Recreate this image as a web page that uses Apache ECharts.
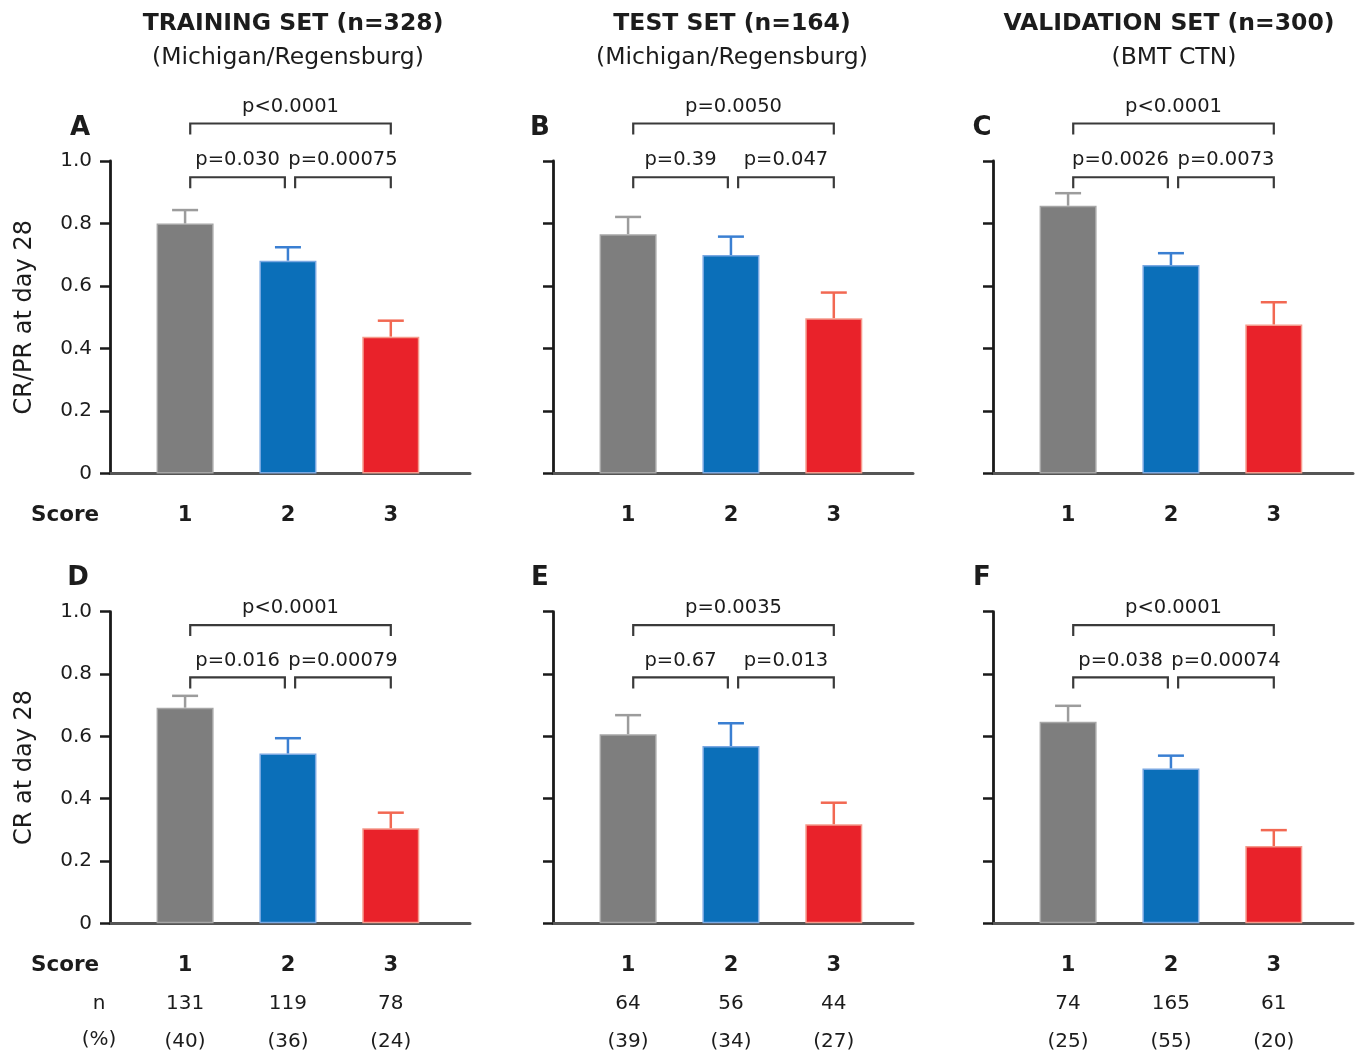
<!DOCTYPE html>
<html>
<head>
<meta charset="utf-8">
<script src="https://cdn.jsdelivr.net/npm/echarts@6/dist/echarts.min.js"></script>
<style>
  html, body { margin: 0; padding: 0; background: #fff; }
  #chart { width: 1363px; height: 1055px; }
</style>
</head>
<body>
<div id="chart"></div>
<script>
// Response rate at day 28 by score group, three cohorts
const scores = [1, 2, 3];
const panelLetters = ['A', 'B', 'C', 'D', 'E', 'F'];
const cohortTitles = ['TRAINING SET (n=328)', 'TEST SET (n=164)', 'VALIDATION SET (n=300)'];
const cohortSources = ['(Michigan/Regensburg)', '(Michigan/Regensburg)', '(BMT CTN)'];
const rowAxisNames = ['CR/PR at day 28', 'CR at day 28'];

// CR/PR at day 28 (row 1): proportion and upper error bound
const crprTraining = [0.800, 0.681, 0.438];
const crprTrainingUpper = [0.843, 0.724, 0.489];
const crprTest = [0.766, 0.699, 0.497];
const crprTestUpper = [0.821, 0.758, 0.579];
const crprValidation = [0.857, 0.667, 0.477];
const crprValidationUpper = [0.897, 0.705, 0.548];

// CR at day 28 (row 2)
const crTraining = [0.692, 0.545, 0.305];
const crTrainingUpper = [0.730, 0.594, 0.355];
const crTest = [0.607, 0.569, 0.318];
const crTestUpper = [0.668, 0.642, 0.387];
const crValidation = [0.647, 0.497, 0.248];
const crValidationUpper = [0.698, 0.538, 0.299];

// pairwise p-values: [1 vs 3, 1 vs 2, 2 vs 3]
const pTrainingCrpr = ['p<0.0001', 'p=0.030', 'p=0.00075'];
const pTestCrpr = ['p=0.0050', 'p=0.39', 'p=0.047'];
const pValidationCrpr = ['p<0.0001', 'p=0.0026', 'p=0.0073'];
const pTrainingCr = ['p<0.0001', 'p=0.016', 'p=0.00079'];
const pTestCr = ['p=0.0035', 'p=0.67', 'p=0.013'];
const pValidationCr = ['p<0.0001', 'p=0.038', 'p=0.00074'];

// bracket heights (value units) for each row: [wide bracket, narrow brackets]
const bracketLevelsRow1 = [1.12, 0.948];
const bracketLevelsRow2 = [0.957, 0.789];
// bracket spans along the score axis: [1 vs 3, 1 vs 2, 2 vs 3]
const bracketSpans = [[1.05, 3.0], [1.05, 1.97], [2.07, 3.0]];

// patients per score group and share of cohort
const nTraining = [131, 119, 78];
const nTest = [64, 56, 44];
const nValidation = [74, 165, 61];
const pctTraining = [40, 36, 24];
const pctTest = [39, 34, 27];
const pctValidation = [25, 55, 20];

const yTicks = [0, 0.2, 0.4, 0.6, 0.8, 1.0];

const FONT = 'DejaVu Sans';
const INK = '#1c1c1c';
const barColors = ['#7e7e7e', '#0b6fb9', '#e9222a'];
const barBorders = ['#a6a6a6', '#7aa8e2', '#f59a8c'];
const errColors = ['#9c9c9c', '#3a7fd2', '#f26852'];

const panels = [
  { mean: crprTraining, upper: crprTrainingUpper, p: pTrainingCrpr, row: 0, col: 0 },
  { mean: crprTest, upper: crprTestUpper, p: pTestCrpr, row: 0, col: 1 },
  { mean: crprValidation, upper: crprValidationUpper, p: pValidationCrpr, row: 0, col: 2 },
  { mean: crTraining, upper: crTrainingUpper, p: pTrainingCr, row: 1, col: 0 },
  { mean: crTest, upper: crTestUpper, p: pTestCr, row: 1, col: 1 },
  { mean: crValidation, upper: crValidationUpper, p: pValidationCr, row: 1, col: 2 }
];
const countsByCol = [nTraining, nTest, nValidation];
const pctByCol = [pctTraining, pctTest, pctValidation];
const levelsByRow = [bracketLevelsRow1, bracketLevelsRow2];

const gridLefts = [110, 553, 993];
const gridTops = [161, 611.7];
const gridHeights = [312.5, 311.6];

const grid = [], xAxis = [], yAxis = [], series = [];

panels.forEach((pn, k) => {
  grid.push({ left: gridLefts[pn.col], top: gridTops[pn.row], width: 360, height: gridHeights[pn.row] });

  const counts = countsByCol[pn.col];
  const pcts = pctByCol[pn.col];
  xAxis.push({
    gridIndex: k, type: 'value', min: 0.27, max: 3.77,
    splitLine: { show: false },
    axisTick: { show: false },
    axisLine: { show: true, onZero: false, lineStyle: { color: '#555', width: 3 } },
    axisLabel: pn.row === 0 ? {
      customValues: scores, margin: 30,
      fontFamily: FONT, fontSize: 21, fontWeight: 'bold', color: INK, lineHeight: 24,
      formatter: v => String(v)
    } : {
      customValues: scores, margin: 23,
      formatter: v => {
        const i = scores.indexOf(v);
        return '{b|' + v + '}\n{n|' + counts[i] + '}\n{n|(' + pcts[i] + ')}';
      },
      rich: {
        b: { fontFamily: FONT, fontSize: 21, fontWeight: 'bold', color: INK, lineHeight: 38 },
        n: { fontFamily: FONT, fontSize: 20, color: INK, lineHeight: 38 }
      }
    }
  });

  yAxis.push({
    gridIndex: k, type: 'value', min: 0, max: 1, interval: 0.2,
    splitLine: { show: false },
    axisLine: { show: true, lineStyle: { color: '#1a1a1a', width: 2.8 } },
    axisTick: { show: true, length: 10, lineStyle: { color: '#1a1a1a', width: 2.5 } },
    axisLabel: {
      show: pn.col === 0, margin: 18,
      fontFamily: FONT, fontSize: 20, color: INK,
      formatter: v => (v === 0 ? '0' : v.toFixed(1))
    },
    name: pn.col === 0 ? rowAxisNames[pn.row] : '',
    nameLocation: 'middle', nameGap: 73,
    nameTextStyle: { fontFamily: FONT, fontSize: 24, color: INK }
  });

  series.push({
    type: 'bar', xAxisIndex: k, yAxisIndex: k, barWidth: 57,
    data: scores.map((s, i) => ({
      value: [s, pn.mean[i]],
      itemStyle: { color: barColors[i], borderColor: barBorders[i], borderWidth: 1.5 }
    })),
    z: 2, silent: true
  });

  // upper error bars
  series.push({
    type: 'custom', xAxisIndex: k, yAxisIndex: k, clip: false, z: 3, silent: true,
    encode: { x: 0, y: [1, 2] },
    data: scores.map((s, i) => [s, pn.mean[i], pn.upper[i]]),
    renderItem: (params, api) => {
      const i = params.dataIndex;
      const base = api.coord([api.value(0), api.value(1)]);
      const top = api.coord([api.value(0), api.value(2)]);
      const c = errColors[i];
      return {
        type: 'group', children: [
          { type: 'line', shape: { x1: base[0], y1: base[1], x2: top[0], y2: top[1] }, style: { stroke: c, lineWidth: 2.5 } },
          { type: 'line', shape: { x1: top[0] - 13, y1: top[1], x2: top[0] + 13, y2: top[1] }, style: { stroke: c, lineWidth: 2.5 } }
        ]
      };
    }
  });

  // significance brackets with p-values
  const lv = levelsByRow[pn.row];
  series.push({
    type: 'custom', xAxisIndex: k, yAxisIndex: k, clip: false, z: 4, silent: true,
    encode: { x: [0, 1], y: 2 },
    data: bracketSpans.map((sp, j) => [sp[0], sp[1], j === 0 ? lv[0] : lv[1]]),
    renderItem: (params, api) => {
      const j = params.dataIndex;
      const a = api.coord([api.value(0), api.value(2)]);
      const b = api.coord([api.value(1), api.value(2)]);
      const drop = 11;
      return {
        type: 'group', children: [
          {
            type: 'polyline',
            shape: { points: [[a[0], a[1] + drop], [a[0], a[1]], [b[0], a[1]], [b[0], a[1] + drop]] },
            style: { stroke: '#3a3a3a', lineWidth: 2.2, fill: null }
          },
          {
            type: 'text', x: (a[0] + b[0]) / 2, y: a[1] - 17,
            style: { text: pn.p[j], align: 'center', verticalAlign: 'middle', fontFamily: FONT, fontSize: 19.5, fill: INK }
          }
        ]
      };
    }
  });
});

const textEl = (text, x, y, size, weight) => ({
  type: 'text', x, y, silent: true,
  style: { text, align: 'center', verticalAlign: 'middle', fontFamily: FONT, fontSize: size, fontWeight: weight || 'normal', fill: INK }
});

const titleCenters = [293, 732, 1169];
const sourceCenters = [288, 732, 1174];
const graphic = [];
cohortTitles.forEach((t, c) => {
  graphic.push(textEl(t, titleCenters[c], 24, 23.5, 'bold'));
  graphic.push(textEl(cohortSources[c], sourceCenters[c], 58, 23.5, 'normal'));
});
const letterPos = [[80, 128], [540, 128], [982, 128], [78, 578], [540, 578], [982, 578]];
panelLetters.forEach((l, i) => graphic.push(textEl(l, letterPos[i][0], letterPos[i][1], 26, 'bold')));
graphic.push(textEl('Score', 65, 515, 21.5, 'bold'));
graphic.push(textEl('Score', 65, 965, 21.5, 'bold'));
graphic.push(textEl('n', 99, 1004, 20, 'normal'));
graphic.push(textEl('(%)', 99, 1040, 20, 'normal'));

const chart = echarts.init(document.getElementById('chart'), null, { renderer: 'canvas' });
chart.setOption({
  animation: false,
  backgroundColor: '#fff',
  grid, xAxis, yAxis, series, graphic
});
</script>
</body>
</html>
